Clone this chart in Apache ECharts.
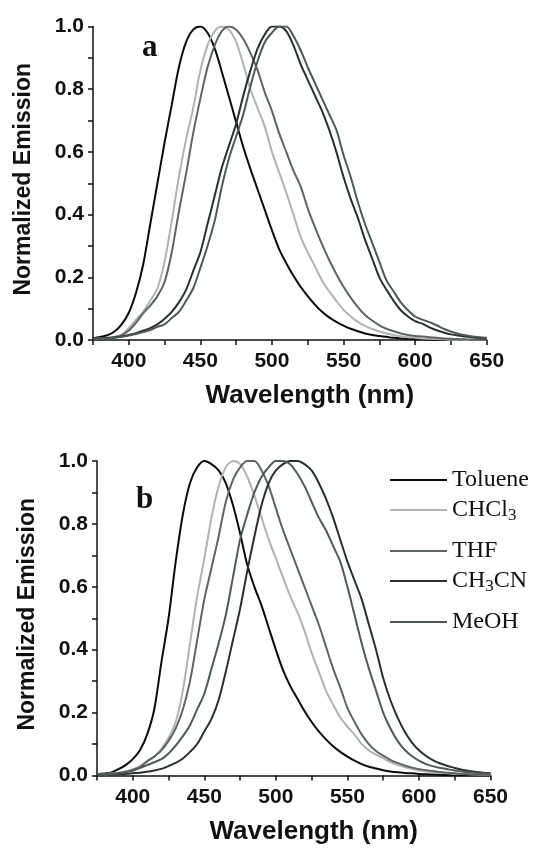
<!DOCTYPE html>
<html>
<head>
<meta charset="utf-8">
<script src="https://cdn.jsdelivr.net/npm/echarts@6/dist/echarts.min.js"></script>
<style>
  html, body { margin: 0; padding: 0; background: #fff; }
  #chart { width: 533px; height: 854px; }
</style>
</head>
<body>
<div id="chart"></div>
<script>
// wavelength grid (nm), 375 -> 650 every 5 nm
const wavelengths = [
  375, 380, 385, 390, 395, 400, 405, 410,
  415, 420, 425, 430, 435, 440, 445, 450,
  455, 460, 465, 470, 475, 480, 485, 490,
  495, 500, 505, 510, 515, 520, 525, 530,
  535, 540, 545, 550, 555, 560, 565, 570,
  575, 580, 585, 590, 595, 600, 605, 610,
  615, 620, 625, 630, 635, 640, 645, 650
]

// panel a
const tolueneA = [
  0.005, 0.01, 0.015, 0.027, 0.05, 0.087, 0.15, 0.24,
  0.37, 0.5, 0.63, 0.75, 0.87, 0.95, 0.99, 1.0,
  0.98, 0.93, 0.855, 0.775, 0.695, 0.615, 0.545, 0.48,
  0.415, 0.35, 0.29, 0.245, 0.205, 0.17, 0.14, 0.113,
  0.09, 0.072, 0.058, 0.046, 0.036, 0.028, 0.021, 0.016,
  0.013, 0.01, 0.007, 0.005, 0.004, 0.003, 0.002, 0.001,
  0, 0, 0, 0, 0, 0, 0, 0
]
const chcl3A = [
  0.003, 0.005, 0.007, 0.01, 0.017, 0.038, 0.065, 0.09,
  0.125, 0.165, 0.25, 0.38, 0.52, 0.64, 0.74, 0.86,
  0.94, 0.985, 1.0, 0.99, 0.95, 0.88, 0.8, 0.74,
  0.68, 0.6, 0.535, 0.47, 0.4, 0.33, 0.28, 0.235,
  0.19, 0.155, 0.125, 0.096, 0.075, 0.058, 0.045, 0.035,
  0.027, 0.021, 0.016, 0.012, 0.009, 0.007, 0.005, 0.004,
  0.003, 0.002, 0.001, 0.001, 0, 0, 0, 0
]
const thfA = [
  0.003, 0.005, 0.007, 0.01, 0.015, 0.03, 0.055, 0.085,
  0.11, 0.14, 0.185, 0.28, 0.41, 0.53, 0.66, 0.77,
  0.87, 0.94, 0.985, 1.0, 0.99, 0.96, 0.915, 0.86,
  0.79, 0.73, 0.66, 0.6, 0.54, 0.49, 0.42, 0.36,
  0.305, 0.255, 0.21, 0.17, 0.135, 0.105, 0.08, 0.062,
  0.047, 0.036, 0.028, 0.021, 0.016, 0.013, 0.011, 0.009,
  0.007, 0.005, 0.004, 0.003, 0.002, 0.001, 0.001, 0
]
const ch3cnA = [
  0.003, 0.004, 0.006, 0.008, 0.011, 0.016, 0.022, 0.03,
  0.038, 0.05, 0.068, 0.09, 0.12, 0.16, 0.22, 0.28,
  0.37, 0.46, 0.55, 0.62, 0.69, 0.78, 0.86, 0.93,
  0.975, 1.0, 1.0, 0.985, 0.94, 0.88, 0.83, 0.78,
  0.73, 0.67, 0.6, 0.52, 0.45, 0.39, 0.32, 0.26,
  0.2, 0.16, 0.125, 0.095, 0.075, 0.06, 0.052, 0.04,
  0.031, 0.024, 0.018, 0.014, 0.011, 0.008, 0.006, 0.005
]
const meohA = [
  0.003, 0.004, 0.005, 0.007, 0.01, 0.014, 0.019, 0.025,
  0.032, 0.042, 0.05, 0.07, 0.09, 0.125, 0.165, 0.23,
  0.3, 0.38, 0.49, 0.58, 0.65, 0.72, 0.81, 0.89,
  0.95, 0.98, 1.0, 1.0, 0.97, 0.925, 0.87, 0.82,
  0.77, 0.72, 0.67, 0.59, 0.52, 0.44, 0.37, 0.31,
  0.25, 0.19, 0.155, 0.12, 0.095, 0.075, 0.065, 0.057,
  0.047, 0.036, 0.027, 0.02, 0.015, 0.011, 0.009, 0.007
]

// panel b
const tolueneB = [
  0.004, 0.006, 0.01, 0.02, 0.033, 0.052, 0.08, 0.13,
  0.21, 0.36, 0.5, 0.68, 0.83, 0.93, 0.98, 1.0,
  0.99, 0.97, 0.93, 0.86, 0.77, 0.67, 0.6, 0.54,
  0.47, 0.4, 0.335, 0.285, 0.245, 0.205, 0.17, 0.14,
  0.115, 0.093, 0.075, 0.06, 0.047, 0.036, 0.028, 0.022,
  0.017, 0.013, 0.01, 0.008, 0.007, 0.005, 0.004, 0.003,
  0.002, 0.001, 0, 0, 0, 0, 0, 0
]
const chcl3B = [
  0.003, 0.004, 0.006, 0.009, 0.013, 0.02, 0.03, 0.045,
  0.06, 0.085, 0.12, 0.17, 0.27, 0.42, 0.57, 0.69,
  0.82, 0.92, 0.98, 1.0, 0.99, 0.95, 0.89, 0.82,
  0.75, 0.69, 0.63, 0.57, 0.52, 0.46, 0.39, 0.33,
  0.27, 0.225, 0.185, 0.155, 0.13, 0.1, 0.08, 0.066,
  0.055, 0.043, 0.034, 0.027, 0.021, 0.016, 0.013, 0.01,
  0.009, 0.008, 0.006, 0.005, 0.004, 0.003, 0.002, 0.002
]
const thfB = [
  0.003, 0.004, 0.006, 0.008, 0.012, 0.018, 0.027, 0.045,
  0.06, 0.08, 0.11, 0.15, 0.21, 0.3, 0.43, 0.56,
  0.66, 0.76, 0.87, 0.94, 0.98, 1.0, 1.0, 0.97,
  0.92, 0.85, 0.78, 0.72, 0.66, 0.6, 0.54, 0.48,
  0.41, 0.34, 0.28, 0.215, 0.17, 0.13, 0.1, 0.078,
  0.063, 0.05, 0.04, 0.032, 0.025, 0.02, 0.017, 0.014,
  0.011, 0.009, 0.007, 0.005, 0.004, 0.003, 0.002, 0.002
]
const meohB = [
  0.002, 0.003, 0.004, 0.006, 0.01, 0.015, 0.024, 0.033,
  0.042, 0.052, 0.07, 0.095, 0.125, 0.16, 0.21, 0.26,
  0.34, 0.42, 0.51, 0.63, 0.75, 0.83, 0.9, 0.95,
  0.98, 1.0, 1.0, 0.99, 0.96, 0.92, 0.87, 0.82,
  0.78, 0.73, 0.68, 0.6, 0.51, 0.42, 0.34, 0.27,
  0.2, 0.15, 0.11, 0.082, 0.062, 0.047, 0.036, 0.029,
  0.024, 0.02, 0.016, 0.013, 0.01, 0.008, 0.007, 0.006
]
const ch3cnB = [
  0.002, 0.002, 0.003, 0.004, 0.005, 0.007, 0.009, 0.012,
  0.016, 0.021, 0.03, 0.04, 0.054, 0.075, 0.1, 0.14,
  0.18, 0.24, 0.33, 0.43, 0.53, 0.65, 0.76, 0.86,
  0.93, 0.97, 0.99, 1.0, 1.0, 0.99, 0.97, 0.93,
  0.88, 0.82, 0.75, 0.68, 0.62, 0.56, 0.48, 0.4,
  0.31, 0.24, 0.185, 0.14, 0.105, 0.08, 0.062, 0.048,
  0.038, 0.03, 0.024, 0.018, 0.014, 0.011, 0.009, 0.008
]

const solvents = ['Toluene', 'CHCl3', 'THF', 'CH3CN', 'MeOH']
const colors = ['#0a0a0a', '#b2b2b2', '#5c6464', '#283030', '#4f5959']
const panelA = [tolueneA, chcl3A, thfA, ch3cnA, meohA]
const panelB = [tolueneB, chcl3B, thfB, ch3cnB, meohB]

// legend rows (center y in px) - uneven because of the subscripts
const legendY = [475, 505, 546, 576, 617]

const pairs = vals => wavelengths.map((w, i) => [w, vals[i]])

const boldSans = 'Liberation Sans'

function xAxisFor(gridIndex) {
  return {
    type: 'value', gridIndex: gridIndex,
    min: 375, max: 650, interval: 25,
    name: 'Wavelength (nm)', nameLocation: 'middle', nameGap: 43,
    // ? the title sits a bit right of the plot centre in the original
    nameTextStyle: { fontFamily: boldSans, fontWeight: 'bold', fontSize: 26, color: '#111', padding: [0, 0, 0, 40] },
    axisLine: { lineStyle: { color: '#111', width: 1.5 } },
    axisTick: { inside: false, length: 5, lineStyle: { color: '#111', width: 1.5 } },
    axisLabel: {
      margin: 11, color: '#111', fontFamily: boldSans, fontWeight: 'bold', fontSize: 21,
      formatter: v => (v % 50 === 0 ? String(v) : '')
    },
    splitLine: { show: false }
  }
}

function yAxisFor(gridIndex) {
  return {
    type: 'value', gridIndex: gridIndex,
    min: 0, max: 1, interval: 0.1,
    name: 'Normalized Emission', nameLocation: 'middle', nameGap: 58,
    nameTextStyle: { fontFamily: boldSans, fontWeight: 'bold', fontSize: 23, color: '#111', padding: [0, 0, 0, 8] },
    axisLine: { show: true, lineStyle: { color: '#111', width: 1.5 } },
    axisTick: { show: true, inside: false, length: 5, lineStyle: { color: '#111', width: 1.5 } },
    axisLabel: {
      margin: 9, color: '#111', fontFamily: boldSans, fontWeight: 'bold', fontSize: 21,
      formatter: v => (Math.round(v * 10) % 2 === 0 ? v.toFixed(1) : '')
    },
    splitLine: { show: false }
  }
}

function lineSeries(name, vals, color, idx) {
  return {
    type: 'line', name: name, data: pairs(vals),
    xAxisIndex: idx, yAxisIndex: idx,
    showSymbol: false, smooth: 0.3,
    lineStyle: { color: color, width: 2 },
    itemStyle: { color: color },
    emphasis: { disabled: true }
  }
}

const series = []
solvents.forEach((s, i) => series.push(lineSeries(s, panelA[i], colors[i], 0)))
solvents.forEach((s, i) => series.push(lineSeries(s, panelB[i], colors[i], 1)))

// one legend block per row so the spacing can follow the original
const legends = solvents.map((s, i) => ({
  data: [s],
  left: 385,
  top: legendY[i] - 12,
  icon: 'rect', itemWidth: 57, itemHeight: 2,
  selectedMode: false,
  formatter: name => name.replace(/3/g, '{s|3}'),
  textStyle: {
    fontFamily: 'Liberation Serif', fontSize: 24, color: '#111',
    rich: {
      s: { fontFamily: 'Liberation Serif', fontSize: 17, color: '#111', verticalAlign: 'bottom', padding: [12, 0, 0, 0] }
    }
  }
}))

const myChart = echarts.init(document.getElementById('chart'), null, { renderer: 'canvas' })

myChart.setOption({
  animation: false,
  backgroundColor: '#fff',
  title: [
    { text: 'a', left: 137, top: 27, textStyle: { fontFamily: 'Liberation Serif', fontWeight: 'bold', fontSize: 31, color: '#111' } },
    { text: 'b', left: 131, top: 479, textStyle: { fontFamily: 'Liberation Serif', fontWeight: 'bold', fontSize: 31, color: '#111' } }
  ],
  grid: [
    { left: 93, top: 26.5, width: 393.7, height: 313.5 },
    { left: 97, top: 461, width: 393.5, height: 314.5 }
  ],
  legend: legends,
  xAxis: [xAxisFor(0), xAxisFor(1)],
  yAxis: [yAxisFor(0), yAxisFor(1)],
  series: series
})

window.addEventListener('resize', () => {
  myChart.resize()
})
</script>
</body>
</html>
